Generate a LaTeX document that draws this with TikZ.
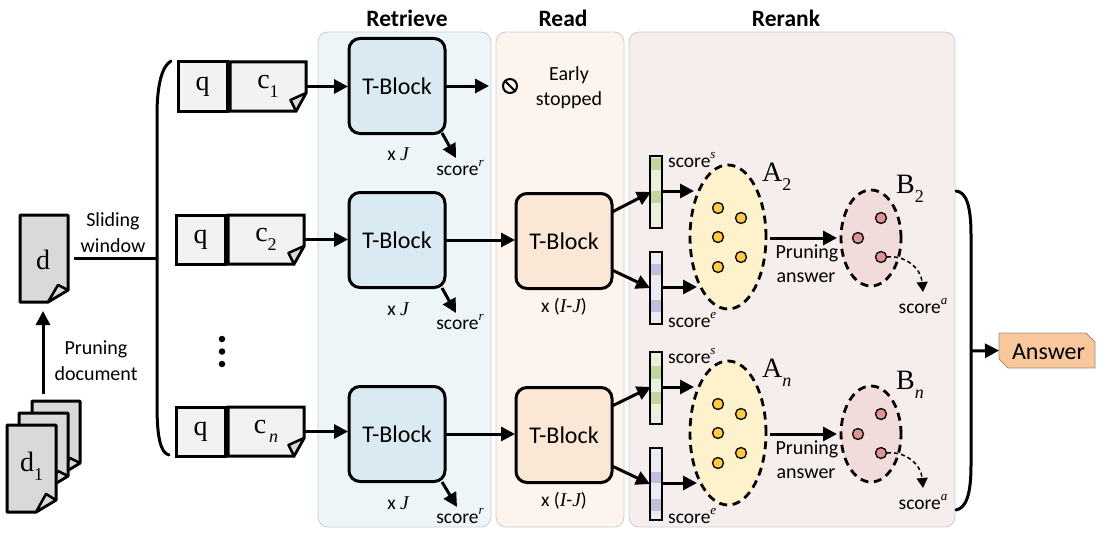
\documentclass[tikz,border=0pt]{standalone}
\usepackage{fontspec}
\setmainfont{Carlito}
\newfontfamily\serifsym{Liberation Serif}
\usetikzlibrary{arrows.meta,shapes.geometric,calc}
\definecolor{retpanel}{HTML}{EDF5F9}
\definecolor{readpanel}{HTML}{FDF4EE}
\definecolor{rerankpanel}{HTML}{F6EDED}
\definecolor{panelline}{HTML}{C8CED2}
\definecolor{retblock}{HTML}{DAEAF2}
\definecolor{readblock}{HTML}{FBE7D6}
\definecolor{docgray}{HTML}{D9D9D9}
\definecolor{qgray}{HTML}{F2F2F2}
\definecolor{ansfill}{HTML}{F8C79B}
\definecolor{ansline}{HTML}{A08E7C}
\definecolor{setA}{HTML}{FEF2CC}
\definecolor{setB}{HTML}{F1DCDB}
\definecolor{dotA}{HTML}{FFCB45}
\definecolor{dotB}{HTML}{E09494}
\definecolor{vecS}{HTML}{EAF0DE}
\definecolor{cellS}{HTML}{C3D69B}
\definecolor{vecE}{HTML}{ECEBF3}
\definecolor{cellE}{HTML}{C5BCDA}
\newcommand{\lowsub}[1]{\raisebox{-0.32em}{\fontsize{18}{18}\selectfont #1}}
\newcommand{\hisup}[1]{\raisebox{0.5em}{\fontsize{13}{13}\selectfont\serifsym\itshape #1}}
\tikzset{
  panel/.style={draw=panelline,line width=0.8pt,rounded corners=10pt},
  title/.style={font=\fontsize{23.5}{26}\selectfont\bfseries,inner sep=0pt},
  lab/.style={font=\fontsize{20}{24}\selectfont,inner sep=0pt,align=center,yshift=-1.5pt},
  small/.style={font=\fontsize{19.5}{23}\selectfont,inner sep=0pt,align=center},
  sym/.style={font=\fontsize{28}{30}\selectfont\serifsym,inner sep=0pt},
  tblock/.style={draw=black,line width=3pt,rounded corners=11pt,minimum width=96pt,minimum height=95pt,font=\fontsize{24}{27}\selectfont,inner sep=0pt,outer sep=1pt},
  qbox/.style={draw=black,line width=3pt,fill=qgray,minimum width=49pt,minimum height=49pt,inner sep=0pt,font=\fontsize{28}{30}\selectfont\serifsym,outer sep=0pt},
  chunk/.style={draw=black,line width=3pt,fill=qgray,line join=miter},
  fold/.style={draw=black,line width=2.5pt,fill=docgray,line join=round},
  doc/.style={draw=black,line width=3pt,fill=docgray,line join=round},
  arr/.style={line width=3pt,-{Triangle[length=14pt,width=14pt]}},
  brace/.style={line width=3pt,line cap=round},
  seta/.style={ellipse,draw=black,line width=2.8pt,dash pattern=on 8pt off 5.5pt,fill=setA,minimum width=76pt,minimum height=144pt,inner sep=0pt},
  setb/.style={ellipse,draw=black,line width=2.8pt,dash pattern=on 8pt off 5.5pt,fill=setB,minimum width=60pt,minimum height=96pt,inner sep=0pt},
  adot/.style={circle,draw=black,line width=1.3pt,fill=dotA,minimum size=11pt,inner sep=0pt},
  bdot/.style={circle,draw=black,line width=1.3pt,fill=dotB,minimum size=11pt,inner sep=0pt},
  vec/.style={minimum width=12pt,inner sep=0pt,outer sep=0pt},
  vecframe/.style={draw=black,line width=1.8pt},
  vcell/.style={draw=none,minimum width=10pt,inner sep=0pt},
  vdot/.style={circle,fill=black,minimum size=6.5pt,inner sep=0pt}
}
% query and chunk row: id, top y of boxes, left x of q, label
\newcommand{\qcrow}[4]{%
  \begin{scope}[shift={(#3,#2)}]
    \node[qbox,anchor=north west] (q#1) at (0,0) {q};
    \draw[chunk] (52,0) -- (128,0) -- (128,31) -- (118,49) -- (52,49) -- cycle;
    \draw[fold] (128,31) -- (112.5,38) -- (118,49) -- cycle;
    \node[minimum width=76pt,minimum height=49pt,inner sep=0pt,outer sep=0pt,font=\fontsize{28}{30}\selectfont\serifsym] (c#1) at (90,24.5) {c\lowsub{#4}};
  \end{scope}}
% rerank group: id, y shift, subscript, cell y list for start and end
\newcommand{\rerankgroup}[8]{%
  \begin{scope}[shift={(0,#2)}]
    \node[vec,fill=vecS,minimum height=72pt] (vs#1) at (656,192) {};
    \node[vcell,fill=cellS,minimum height=#5pt] at (656,#4) {};
    \node[vcell,fill=cellS,minimum height=12pt] at (656,#6) {};
    \draw[vecframe] (vs#1.north west) rectangle (vs#1.south east);
    \node[vec,fill=vecE,minimum height=72pt] (ve#1) at (656,288) {};
    \node[vcell,fill=cellE,minimum height=11pt] at (656,#7) {};
    \node[vcell,fill=cellE,minimum height=12pt] at (656,#8) {};
    \draw[vecframe] (ve#1.north west) rectangle (ve#1.south east);
    \node[seta] (A#1) at (728,237) {};
    \node[setb] (B#1) at (871,238) {};
    \node[adot] at (718,208) {};
    \node[adot] at (741,218) {};
    \node[adot] at (718,237) {};
    \node[adot] at (741,257) {};
    \node[adot] at (718,267) {};
    \node[bdot] at (881,218) {};
    \node[bdot] at (858,238) {};
    \node[bdot] (bd#1) at (881,257) {};
    \coordinate (Ain#1) at (694,191);
    \coordinate (Aout#1) at (662,191);
    \coordinate (Ein#1) at (697,287);
    \coordinate (Eout#1) at (662,287);
    \coordinate (Ael#1) at (770,238);
    \coordinate (Bel#1) at (837,238);
    \coordinate (sa#1) at (923,292);
    \draw[arr] (Aout#1) -- (Ain#1);
    \draw[arr] (Eout#1) -- (Ein#1);
    \draw[arr] (Ael#1) -- (Bel#1);
    \draw[line width=1.5pt,dash pattern=on 4pt off 3pt,-{Triangle[length=10pt,width=11pt]}] (bd#1.east) .. controls (905,255) and (921,268) .. (sa#1);
    \node[small,anchor=west] at (668,160) {score\hisup{s}};
    \node[small,anchor=west] at (668,320) {score\hisup{e}};
    \node[small,anchor=center] at (923,306) {score\hisup{a}};
    \node[lab,anchor=center] at (807,252) {Pruning};
    \node[lab,anchor=center] at (806,276) {answer};
    \node[sym,anchor=west] at (762,177) {A\lowsub{#3}};
    \node[sym,anchor=west] at (896,189) {B\lowsub{#3}};
  \end{scope}}
\begin{document}
\begin{tikzpicture}[x=1pt,y=-1pt]
\useasboundingbox (0,0) rectangle (1102,535);
% panels
\filldraw[panel,fill=retpanel] (318,32) rectangle (491,527);
\filldraw[panel,fill=readpanel] (496,32) rectangle (624,527);
\filldraw[panel,fill=rerankpanel] (629,32) rectangle (955,527);
\node[title] (t1) at (407,18) {Retrieve};
\node[title] (t2) at (563,18) {Read};
\node[title] (t3) at (786,18) {Rerank};
% documents
\draw[doc] (32,401) -- (80,401) -- (80,463) -- (60,475) -- (32,475) -- cycle;
\draw[fold] (60,475) -- (70,458) -- (80,463) -- cycle;
\draw[doc] (19,413) -- (68,413) -- (68,476) -- (48,488) -- (19,488) -- cycle;
\draw[fold] (48,488) -- (58,471) -- (68,476) -- cycle;
\draw[doc] (7,425) -- (56,425) -- (56,500) -- (36,512) -- (7,512) -- cycle;
\draw[fold] (36,512) -- (46,494) -- (56,500) -- cycle;
\node[sym,minimum width=49pt,minimum height=87pt] (docs) at (31.5,466) {d\lowsub{1}};
\draw[doc] (20,215) -- (68,215) -- (68,290) -- (48,302) -- (20,302) -- cycle;
\draw[fold] (48,302) -- (58,285) -- (68,290) -- cycle;
\node[sym,minimum width=48pt,minimum height=87pt] (doc) at (43,260) {d};
\coordinate (docsTop) at (43,394);
\coordinate (docBot) at (43,311);
\draw[arr] (docsTop) -- (docBot);
\node[lab] (prune) at (96,348) {Pruning};
\node[lab] (pdoc) at (96,372) {document};
\node[lab] (slide) at (113,220) {Sliding};
\node[lab] (win) at (113,244) {window};
% left brace
\coordinate (brTop) at (171,61);
\coordinate (brBot) at (169,455);
\coordinate (brJoin) at (157,258);
\coordinate (docOut) at (74,258);
\draw[brace] (brTop) .. controls (162,66) and (157,85) .. (157,115) -- (157,405) .. controls (157,435) and (160,453) .. (brBot);
\draw[line width=3pt] (docOut) -- (brJoin);
% rows
\qcrow{1}{62}{178}{1}
\qcrow{2}{215}{176}{2}
\qcrow{n}{407}{176}{\,\itshape n}
\node[vdot] (e1) at (222,339) {};
\node[vdot] (e2) at (222,351.5) {};
\node[vdot] (e3) at (222,364) {};
% T-blocks
\node[tblock,fill=retblock] (r1) at (397,86) {T-Block};
\node[tblock,fill=retblock] (r2) at (397,240) {T-Block};
\node[tblock,fill=retblock] (rn) at (397,434) {T-Block};
\node[tblock,fill=readblock] (m2) at (564,241) {T-Block};
\node[tblock,fill=readblock] (mn) at (564,435) {T-Block};
% connectors
\draw[arr] (c1.east) -- (r1.west |- c1.east);
\draw[arr] (c2.east) -- (r2.west |- c2.east);
\draw[arr] (cn.east) -- (rn.west |- cn.east);
\coordinate (stopEnd) at (489,86);
\draw[arr] (r1.east) -- (stopEnd);
\draw[arr] (r2.east) -- (m2.west |- r2.east);
\draw[arr] (rn.east) -- (mn.west |- rn.east);
% early stop
\node[circle,draw=black,line width=2pt,minimum size=14pt,inner sep=0pt] (stop) at (510,86) {};
\draw[line width=2pt] (stop.135) -- (stop.315);
\node[lab] (early) at (569,74) {Early};
\node[lab] (stopped) at (569,99) {stopped};
% retrieve outputs
\coordinate (s1a) at (442,133);
\coordinate (s1b) at (456,158);
\coordinate (s2a) at (442,288);
\coordinate (s2b) at (456,313);
\coordinate (sna) at (442,482);
\coordinate (snb) at (457,507);
\draw[arr] (s1a) -- (s1b);
\draw[arr] (s2a) -- (s2b);
\draw[arr] (sna) -- (snb);
\node[small] (x1) at (398,154) {x {\serifsym\itshape J}};
\node[small] (x2) at (398,309) {x {\serifsym\itshape J}};
\node[small] (x3) at (398,503) {x {\serifsym\itshape J}};
\node[small] (sr1) at (460,168) {score\hisup{r}};
\node[small] (sr2) at (460,322) {score\hisup{r}};
\node[small] (sr3) at (460,516) {score\hisup{r}};
\node[small] (x4) at (564,307) {x ({\serifsym\itshape I}-{\serifsym\itshape J})};
\node[small] (x5) at (564,501) {x ({\serifsym\itshape I}-{\serifsym\itshape J})};
% rerank groups
\rerankgroup{2}{0}{2}{164}{12}{197}{269}{306}
\rerankgroup{n}{196}{\itshape n}{176}{13}{201.5}{281.5}{309}
% read to vectors
\coordinate (m2a) at (612,212);
\coordinate (m2b) at (651,192);
\coordinate (m2c) at (612,270);
\coordinate (m2d) at (650,288);
\coordinate (mna) at (612,406);
\coordinate (mnb) at (651,387);
\coordinate (mnc) at (612,466);
\coordinate (mnd) at (650,484);
\draw[arr] (m2a) -- (m2b);
\draw[arr] (m2c) -- (m2d);
\draw[arr] (mna) -- (mnb);
\draw[arr] (mnc) -- (mnd);
% right brace and answer
\coordinate (rbTop) at (956,191);
\coordinate (rbBot) at (956,510);
\coordinate (rbJoin) at (971,351);
\draw[brace] (rbTop) .. controls (966,192) and (971,205) .. (971,235) -- (971,465) .. controls (971,495) and (966,508) .. (rbBot);
\node[minimum width=96pt,minimum height=35pt,inner sep=0pt,outer sep=0pt] (ansbg) at (1047,350.5) {};
\draw[draw=ansline,line width=0.9pt,fill=ansfill] (ansbg.north west) -- ($(ansbg.north east)+(-9,0)$) -- ($(ansbg.north east)+(0,9)$) -- (ansbg.south east) -- ($(ansbg.south west)+(9,0)$) -- ($(ansbg.south west)+(0,-9)$) -- cycle;
\node[font=\fontsize{24}{27}\selectfont,inner sep=0pt] (ans) at (1048.5,352) {Answer};
\draw[arr] (rbJoin) -- (ansbg.west);
\end{tikzpicture}
\end{document}
